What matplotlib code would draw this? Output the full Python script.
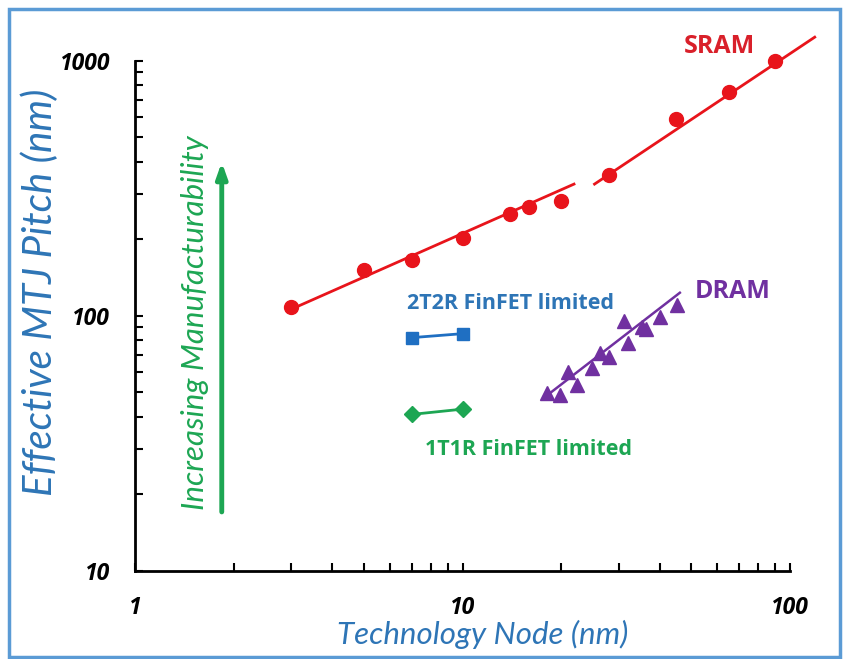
import numpy as np
import matplotlib.pyplot as plt
from matplotlib.patches import Rectangle

plt.rcParams['font.family'] = ['Lato', 'DejaVu Sans']

# SRAM cells
sram_node = [3, 5, 7, 10, 14, 16, 20, 28, 45, 65, 90]
sram_pitch = [108, 151, 166, 202, 250, 267, 282, 356, 590, 755, 1000]
# SRAM trend lines (two segments)
sram_fit1_x = [3, 21.9]
sram_fit1_y = [106, 328]
sram_fit2_x = [25.3, 119]
sram_fit2_y = [328, 1236]

# DRAM cells
dram_node = [18.1, 19.9, 21.0, 22.3, 24.8, 26.3, 28.1, 31.1, 32.1, 35.3, 36.3, 40.1, 45.1]
dram_pitch = [49.6, 48.9, 60.3, 53.5, 62.2, 71.2, 68.7, 95.5, 78.3, 90.5, 88.5, 99.1, 110]
dram_fit_x = [17.9, 46.1]
dram_fit_y = [48.1, 123]

# FinFET limited
fin2_node = [7, 10]
fin2_pitch = [82, 85]
fin1_node = [7, 10]
fin1_pitch = [41, 43]

red = '#E8141B'
purple = '#7030A0'
blue = '#1F6FC2'
green = '#1DA653'
label_blue = '#2E75B6'

bold_font = ['Open Sans', 'DejaVu Sans']

fig = plt.figure(figsize=(8.44, 6.59), dpi=100)
ax = fig.add_axes([0.16, 0.134, 0.776, 0.774])
ax.set_xscale('log')
ax.set_yscale('log')
ax.set_xlim(1, 100)
ax.set_ylim(10, 1000)

ax.plot(sram_fit1_x, sram_fit1_y, '-', color=red, lw=2, clip_on=False)
ax.plot(sram_fit2_x, sram_fit2_y, '-', color=red, lw=2, clip_on=False)
ax.plot(sram_node, sram_pitch, 'o', color=red, ms=10, clip_on=False)

ax.plot(dram_fit_x, dram_fit_y, '-', color=purple, lw=1.8)
ax.plot(dram_node, dram_pitch, '^', color=purple, ms=9.5)

ax.plot(fin2_node, fin2_pitch, '-s', color=blue, lw=2, ms=9)
ax.plot(fin1_node, fin1_pitch, '-D', color=green, lw=2, ms=8)

# labels
ax.text(61, 1132, 'SRAM', color='#D9202A', fontsize=18, fontweight='bold', family=bold_font,
        ha='center', va='center', clip_on=False)
ax.text(67, 124, 'DRAM', color=purple, fontsize=18, fontweight='bold', family=bold_font,
        ha='center', va='center')
ax.text(6.77, 112, '2T2R FinFET limited', color=label_blue, fontsize=15.5, fontweight='bold',
        family=bold_font, ha='left', va='center')
ax.text(7.69, 30, '1T1R FinFET limited', color=green, fontsize=15.5, fontweight='bold',
        family=bold_font, ha='left', va='center')

# manufacturability arrow
ax.annotate('', xy=(1.84, 400), xytext=(1.84, 17),
            arrowprops=dict(arrowstyle='-|>,head_length=0.9,head_width=0.32',
                            color=green, lw=3.5, shrinkA=0, shrinkB=0))
ax.text(0.0916, 0.486, 'Increasing Manufacturability', transform=ax.transAxes,
        rotation=90, color=green, fontsize=22.5, style='italic', ha='center', va='center')

# axes styling
for s in ['top', 'right']:
    ax.spines[s].set_visible(False)
for s in ['left', 'bottom']:
    ax.spines[s].set_linewidth(2)
ax.tick_params(which='both', direction='in', length=6, width=1.5, colors='black')
ax.tick_params(axis='x', which='major', pad=18)
ax.tick_params(axis='y', which='major', pad=18)
ax.set_xticks([1, 10, 100], ['1', '10', '100'])
ax.set_yticks([10, 100, 1000], ['10', '100', '1000'])
ax.tick_params(which='minor', labelleft=False, labelbottom=False)
for lab in ax.get_xticklabels() + ax.get_yticklabels():
    lab.set_fontsize(16.5)
    lab.set_fontweight('bold')
    lab.set_fontstyle('italic')
    lab.set_family(bold_font)

ax.set_xlabel('Technology Node (nm)', color=label_blue, fontsize=22.5, style='italic')
ax.xaxis.set_label_coords(0.531, -0.124)
ax.xaxis.label.set_va('center')
ax.set_ylabel('Effective MTJ Pitch (nm)', color=label_blue, fontsize=29, style='italic')
ax.yaxis.set_label_coords(-0.145, 0.545)
ax.yaxis.label.set_va('center')

# outer frame
fig.patches.append(Rectangle((9 / 844, 2 / 659), 831 / 844, 648 / 659, transform=fig.transFigure,
                             fill=False, edgecolor='#5B9BD5', lw=2.5))

fig.savefig('out.png', dpi=100)
